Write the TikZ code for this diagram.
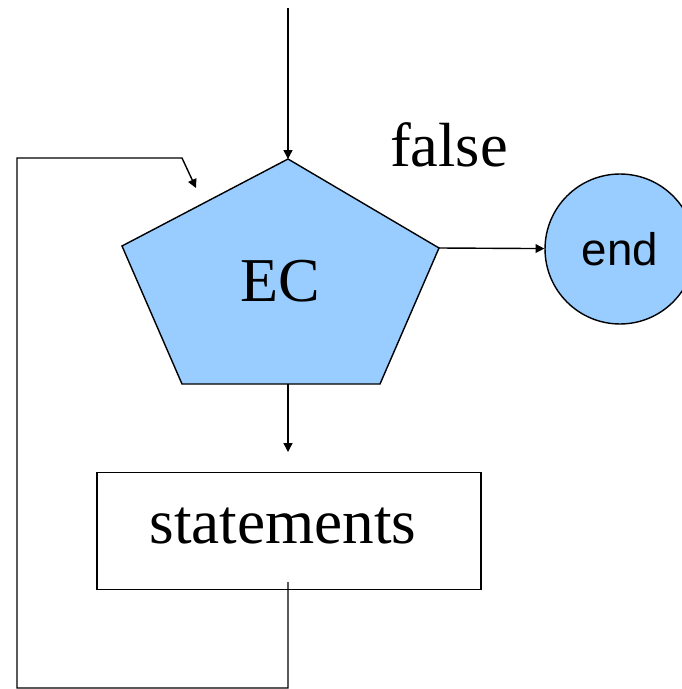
\documentclass[tikz,border=0pt]{standalone}
\usepackage{fontspec}
\setmainfont{Liberation Serif}
\newfontfamily\endfont{Liberation Sans}
\usetikzlibrary{arrows.meta}
\definecolor{ecblue}{RGB}{153,204,255}
\begin{document}
\begin{tikzpicture}[x=0.02cm,y=-0.02cm,line width=0.8pt,myarr/.style={-{Triangle[length=5pt,width=5pt]}},mytxt/.style={font=\fontsize{35.5}{40}\selectfont,inner sep=0pt},myend/.style={circle, draw, fill=ecblue, minimum size=3cm, inner sep=0pt, font=\endfont\fontsize{26}{30}\selectfont},mybox/.style={rectangle, draw, minimum width=7.68cm, minimum height=2.34cm, inner sep=0pt, font=\fontsize{36}{40}\selectfont}]
  \useasboundingbox (0,0) rectangle (681,689);

  % pentagon corners
  \coordinate (top) at (288,159);
  \coordinate (ur) at (439,248);
  \coordinate (lr) at (380,384);
  \coordinate (ll) at (182,384);
  \coordinate (ul) at (122,246);
  \filldraw[fill=ecblue] (top) -- (ur) -- (lr) -- (ll) -- (ul) -- cycle;

  \node[mytxt] (ec) at (280,281) {EC};
  \node[mytxt, anchor=base] (false) at (449,167) {false};
  \node[myend] (endc) at (620,249) {end};
  \node[mybox] (stm) at (289,531) {\hspace*{-0.24cm}\raisebox{0.2cm}{statements}};

  \coordinate (in) at (288,8);
  \coordinate (pb) at (288,384);
  \coordinate (sin) at (288,452);
  \coordinate (lp0) at (288,582);
  \coordinate (lpa) at (17,688);
  \coordinate (lpb) at (182,158);
  \coordinate (lptip) at (196,188);

    \draw[myarr] (in) -- (top);
    \draw[myarr] (ur) -- (endc);
    \draw[myarr] (pb) -- (sin);
    \draw[myarr] (lp0) |- (lpa) |- (lpb) -- (lptip);

\end{tikzpicture}
\end{document}
